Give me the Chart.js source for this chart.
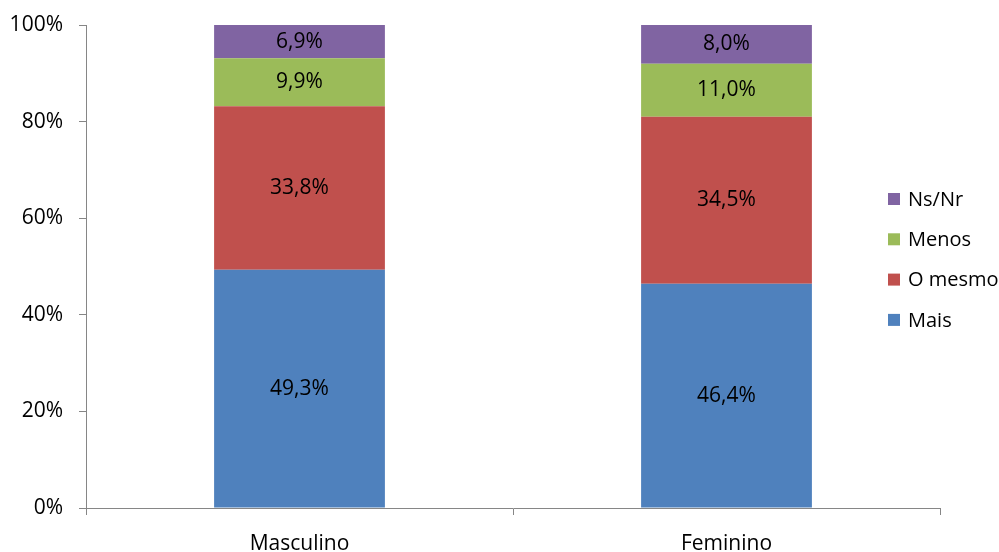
<!DOCTYPE html>
<html>
<head>
<meta charset="utf-8">
<script src="https://cdn.jsdelivr.net/npm/chart.js@4.4.1/dist/chart.umd.min.js"></script>
<style>
html,body{margin:0;padding:0;background:#fff;overflow:hidden;}
#wrap{position:relative;width:999px;height:566px;}
</style>
</head>
<body>
<div id="wrap"><canvas id="c"></canvas></div>
<script>
const categories = ['Masculino', 'Feminino'];
const seriesNames = ['Mais', 'O mesmo', 'Menos', 'Ns/Nr'];
const mais = [49.3, 46.4];
const oMesmo = [33.8, 34.5];
const menos = [9.9, 11.0];
const nsNr = [6.9, 8.0];
const yTicks = [0, 20, 40, 60, 80, 100];
const colors = ['#4F81BD', '#C0504D', '#9BBB59', '#8064A2'];

const FONT = '"Open Sans"';
const FS = 21;
const LEG_FS = 20;

const raw = [mais, oMesmo, menos, nsNr];
const totals = categories.map((_, i) => raw.reduce((s, a) => s + a[i], 0));
const datasets = raw.map((arr, k) => ({
  label: seriesNames[k],
  data: arr.map((v, i) => v / totals[i] * 100),
  rawValues: arr,
  backgroundColor: colors[k],
  borderWidth: 0,
  barPercentage: 0.4,
  categoryPercentage: 1.0
}));

const fmt = v => v.toFixed(1).replace('.', ',') + '%';

const labelPlugin = {
  id: 'valueLabels',
  afterDatasetsDraw(chart) {
    const ctx = chart.ctx;
    ctx.save();
    ctx.font = FS + 'px ' + FONT;
    ctx.fillStyle = '#000';
    ctx.textAlign = 'center';
    ctx.textBaseline = 'middle';
    chart.data.datasets.forEach((ds, k) => {
      const meta = chart.getDatasetMeta(k);
      meta.data.forEach((el, i) => {
        const p = el.getProps(['x', 'y', 'base'], true);
        ctx.fillText(fmt(ds.rawValues[i]), p.x, (p.y + p.base) / 2);
      });
    });
    ctx.restore();
  }
};

const legendPlugin = {
  id: 'sideLegend',
  afterDraw(chart) {
    const ctx = chart.ctx;
    ctx.save();
    ctx.font = LEG_FS + 'px ' + FONT;
    ctx.textAlign = 'left';
    ctx.textBaseline = 'middle';
    const items = chart.data.datasets.map((d, k) => ({ text: d.label, color: d.backgroundColor })).reverse();
    const x0 = 888, y0 = 199, step = 40.3;
    items.forEach((it, i) => {
      const y = y0 + i * step;
      ctx.fillStyle = it.color;
      ctx.fillRect(x0, y - 6, 12, 12);
      ctx.fillStyle = '#000';
      ctx.fillText(it.text, x0 + 20, y + 1);
    });
    ctx.restore();
  }
};

new Chart(document.getElementById('c'), {
  type: 'bar',
  data: { labels: categories, datasets },
  options: {
    responsive: true,
    maintainAspectRatio: false,
    animation: false,
    layout: { padding: { left: 0, right: 59, top: 25, bottom: 0 } },
    plugins: { legend: { display: false }, tooltip: { enabled: false } },
    scales: {
      x: {
        stacked: true,
        afterFit(scale) { scale.height = 58; scale.paddingLeft = 0; scale.paddingRight = 0; },
        grid: { display: true, drawOnChartArea: false, offset: true, tickLength: 7, color: '#868686' },
        border: { color: '#868686', width: 1 },
        ticks: { color: '#000', font: { family: FONT, size: FS }, padding: 16 }
      },
      y: {
        stacked: true,
        min: 0,
        max: 100,
        afterBuildTicks(scale) { scale.ticks = yTicks.map(v => ({ value: v })); },
        afterFit(scale) { scale.width = 86; scale.paddingTop = 0; scale.paddingBottom = 0; },
        grid: { display: true, drawOnChartArea: false, tickLength: 7, color: '#868686' },
        border: { color: '#868686', width: 1 },
        ticks: { color: '#000', font: { family: FONT, size: FS }, padding: 16, callback: v => v + '%' }
      }
    }
  },
  plugins: [labelPlugin, legendPlugin]
});
</script>
</body>
</html>
